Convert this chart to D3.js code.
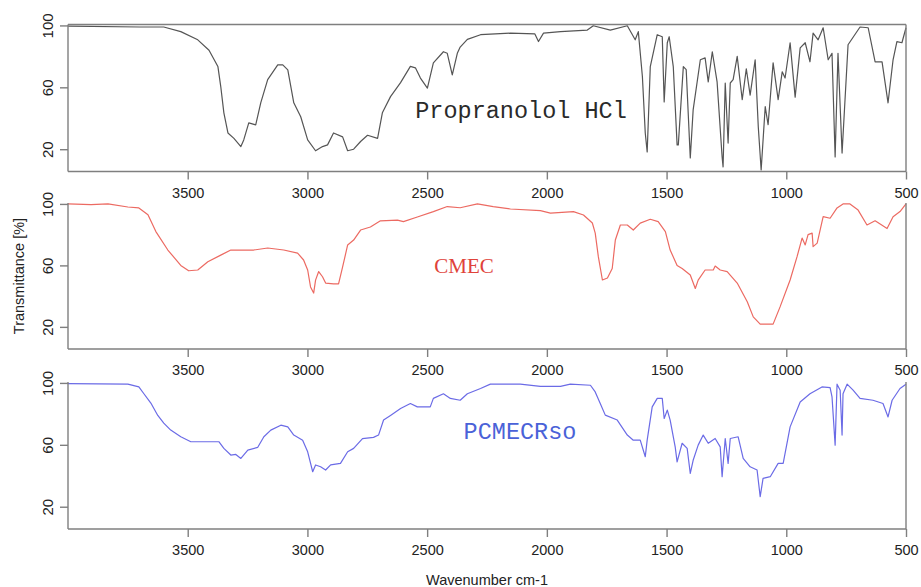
<!DOCTYPE html>
<html>
<head>
<meta charset="utf-8">
<script src="https://cdn.jsdelivr.net/npm/d3@7"></script>
<style>
  html, body { margin: 0; padding: 0; background: #fff; }
  svg { display: block; }
</style>
</head>
<body>
<svg id="chart" width="921" height="587"></svg>
<script>
// ---- Data ----
const xTicks = [3500, 3000, 2500, 2000, 1500, 1000, 500];
const yTicks = [20, 60, 100];
const seriesNames = ["Propranolol HCl", "CMEC", "PCMECRso"];

const propWn = [4000,3700,3600,3529,3458,3411,3374,3362,3349,3332,3307,3278,3266,3245,3216,3195,3166,3124,3103,3082,3057,3028,2999,2966,2937,2916,2891,2853,2832,2807,2778,2749,2707,2687,2653,2611,2570,2549,2528,2499,2474,2432,2416,2395,2374,2362,2332,2277,2152,2050,2035,2014,1943,1831,1806,1735,1664,1631,1618,1601,1589,1581,1568,1539,1518,1510,1497,1489,1472,1456,1451,1430,1418,1401,1389,1359,1339,1326,1309,1289,1268,1264,1255,1243,1234,1222,1205,1184,1167,1151,1130,1117,1105,1088,1076,1055,1034,1017,1005,984,963,942,921,901,888,867,846,825,809,796,784,767,742,692,658,629,600,575,554,538,517,500];
const propT  = [99.5,99,99,96,90.7,84,73.5,60.5,43.5,30.5,27,21.7,26,37,35.7,50,65,74.5,74.5,71.3,50,41,26,19,21.7,22.8,30.5,28,19,20,25,29,27,43.5,54,63,73.5,72.6,66,59.5,75.8,83,82,68,82,86,91,94,95,94.5,89.6,95,96,97,99.8,97,99.8,90.7,96,67,30.5,18.2,73.4,94,92.7,50.6,88.8,92.7,73.4,22.8,22.8,73.4,71.4,14.4,45.4,77.8,79,63.5,83,63.5,15,8.6,62.8,24,62.8,65,80,52,72,55,77.8,34.5,6.6,47.5,35.8,75.8,52,70,66,88.8,53.7,85.5,88.8,76.5,95,90.7,98.5,77.8,82,15,82,17.5,87.5,99,98.5,76.5,76.5,50,77.8,89.5,88.8,98.5];

const cmecWn = [4000,3904,3833,3750,3704,3666,3633,3583,3529,3496,3458,3416,3362,3320,3224,3166,3099,3041,3016,2999,2987,2974,2966,2953,2937,2924,2891,2870,2853,2832,2807,2778,2737,2695,2624,2599,2541,2474,2416,2362,2290,2224,2152,2027,1985,1889,1847,1810,1798,1785,1768,1747,1727,1714,1693,1664,1639,1610,1568,1535,1505,1485,1456,1435,1401,1380,1368,1339,1305,1297,1276,1247,1205,1163,1138,1109,1055,1026,984,955,934,921,909,892,888,871,846,817,788,763,734,700,663,629,579,554,525,500];
const cmecT  = [100,99.5,100,98,97.4,93,82,70,60,56.5,57,62.4,66.7,70,70,71.3,70,68,63.5,57,46,42,50.4,56,52.6,48.5,48,48,59,73.3,76.5,83,85,89,89.5,88.5,91.5,95,98.3,97.5,100,98.3,96.7,95.6,94,95,92.8,87.6,81,65.7,50.5,51.8,58,76.5,86.3,86.3,83,87.5,90,88.5,82,70,60,58,53.7,45,50.4,57,57,59.6,57,56,48.5,36.3,26.5,21.8,21.8,33,50.5,65.7,77.8,73.3,80,81,72.2,74.5,91.7,90.7,97.4,100,100,96,86.3,89,84,91.7,95,100];

const pcmWn = [4000,3750,3704,3683,3654,3625,3600,3571,3529,3487,3416,3370,3349,3320,3299,3278,3249,3208,3182,3153,3111,3082,3057,3020,2999,2978,2966,2945,2924,2903,2862,2832,2807,2770,2724,2703,2682,2653,2611,2570,2541,2487,2474,2432,2403,2362,2332,2277,2236,2111,2027,1943,1902,1818,1798,1777,1756,1706,1664,1639,1610,1589,1581,1560,1539,1518,1510,1497,1485,1464,1456,1435,1414,1401,1389,1368,1347,1326,1297,1276,1268,1255,1243,1234,1201,1180,1151,1122,1109,1097,1067,1034,1013,984,942,901,851,817,809,796,788,775,767,763,746,721,692,638,596,575,558,525,500];
const pcmT  = [99.6,99.2,97.4,93,87,79,74,69.5,65.2,62,62,62,57.7,53.4,53.8,51.2,56.6,58.3,65.2,69.5,72.7,71.6,66.3,63,55.5,42.6,47,45.8,43.7,47,48,55.5,57.7,64,64.8,66.3,76,79,83.5,86.7,84.5,84.5,90,93,90,88.8,93,96.4,99.2,99.2,97.8,97.8,99.2,98.5,94.2,86.7,79.2,76,66.3,63,63,52.3,63,84.5,90,90,77,82.4,76,58.7,49,61,57.7,41.5,50,59.8,66.3,61,64.1,58.7,39.4,64.1,48,64.1,65.2,51.2,45.8,43.7,26.5,38.3,39.4,48,48,71.6,87.7,93,97.4,97,91,59.8,99.2,95.3,66.3,93,99.2,95.3,90,88.8,86.7,78,88.8,96.4,99.2];

// ---- Layout ----
const svg = d3.select("#chart");
const left = 68, right = 906;
const x = d3.scaleLinear().domain([4000, 500]).range([left, right]);
const yDomain = [5.6, 100.6];

const panels = [
  { wn: propWn, t: propT, top: 24.5, bottom: 171.5, color: "#555555", box: true,
    label: seriesNames[0], lx: 521, ly: 111, lfont: "'Liberation Mono', 'DejaVu Sans Mono', monospace", lsize: 23.5, lcolor: "#2a2a2a" },
  { wn: cmecWn, t: cmecT, top: 203, bottom: 349, color: "#ec6a62", box: false,
    label: seriesNames[1], lx: 464, ly: 266, lfont: "'Liberation Serif', 'DejaVu Serif', serif", lsize: 21, lcolor: "#e0423a" },
  { wn: pcmWn, t: pcmT, top: 382, bottom: 529, color: "#6b6be6", box: false,
    label: seriesNames[2], lx: 520, ly: 432, lfont: "'Liberation Mono', 'DejaVu Sans Mono', monospace", lsize: 23.5, lcolor: "#4a62d8" }
];

const axisColor = "#7f7f7f";
const textColor = "#222";

panels.forEach(p => {
  const y = d3.scaleLinear().domain(yDomain).range([p.bottom, p.top]);
  const g = svg.append("g");

  // series line
  const pts = p.wn.map((w, i) => [w, p.t[i]]);
  g.append("path")
    .datum(pts)
    .attr("fill", "none")
    .attr("stroke", p.color)
    .attr("stroke-width", 1.2)
    .attr("stroke-linejoin", "round")
    .attr("d", d3.line().x(d => x(d[0])).y(d => y(d[1])));

  // frame
  const frame = g.append("g").attr("stroke", axisColor).attr("stroke-width", 1.4).attr("fill", "none");
  frame.append("line").attr("x1", left).attr("x2", left).attr("y1", p.top).attr("y2", p.bottom);
  frame.append("line").attr("x1", right).attr("x2", right).attr("y1", p.top).attr("y2", p.bottom);
  frame.append("line").attr("x1", left).attr("x2", right).attr("y1", p.bottom).attr("y2", p.bottom);
  if (p.box) frame.append("line").attr("x1", left).attr("x2", right).attr("y1", p.top).attr("y2", p.top);

  // x axis
  const xa = g.append("g").attr("transform", `translate(0,${p.bottom})`)
    .call(d3.axisBottom(x).tickValues(xTicks).tickSize(8).tickPadding(8).tickFormat(d3.format("d")));
  xa.select(".domain").remove();
  xa.selectAll("line").attr("stroke", axisColor).attr("stroke-width", 1.4);
  xa.selectAll("text").attr("fill", textColor)
    .style("font-family", "'Liberation Sans', Arial, sans-serif").style("font-size", "14.5px");

  // y axis
  const ya = g.append("g").attr("transform", `translate(${left},0)`)
    .call(d3.axisLeft(y).tickValues(yTicks).tickSize(8).tickFormat(d3.format("d")));
  ya.select(".domain").remove();
  ya.selectAll("line").attr("stroke", axisColor).attr("stroke-width", 1.4);
  ya.selectAll("text")
    .attr("x", null).attr("dy", null)
    .attr("text-anchor", "middle")
    .attr("transform", "translate(-20,0) rotate(-90)")
    .attr("dy", "0.35em")
    .attr("fill", textColor)
    .style("font-family", "'Liberation Sans', Arial, sans-serif").style("font-size", "15px");

  // series label
  g.append("text")
    .attr("x", p.lx).attr("y", p.ly)
    .attr("text-anchor", "middle").attr("dominant-baseline", "central")
    .attr("fill", p.lcolor)
    .style("font-family", p.lfont).style("font-size", p.lsize + "px")
    .text(p.label);
});

// axis titles
svg.append("text")
  .attr("transform", "translate(19,276) rotate(-90)")
  .attr("text-anchor", "middle").attr("dominant-baseline", "central")
  .attr("fill", textColor)
  .style("font-family", "'Liberation Sans', Arial, sans-serif").style("font-size", "14.5px")
  .text("Transmittance [%]");

svg.append("text")
  .attr("x", 487).attr("y", 580)
  .attr("text-anchor", "middle").attr("dominant-baseline", "central")
  .attr("fill", textColor)
  .style("font-family", "'Liberation Sans', Arial, sans-serif").style("font-size", "14.5px")
  .text("Wavenumber cm-1");
</script>
</body>
</html>
